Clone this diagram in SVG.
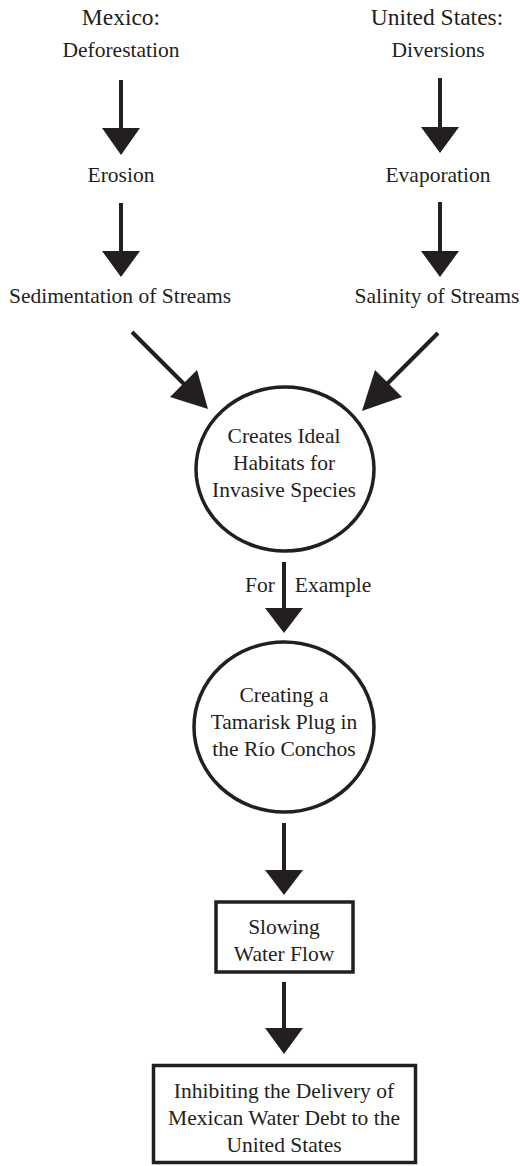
<svg xmlns="http://www.w3.org/2000/svg" width="520" height="1166" viewBox="0 0 520 1166">
<style>
text{font-family:"Liberation Serif","Times New Roman",serif;fill:#231f20;text-anchor:middle;font-size:21.5px}
.h{font-size:23.5px}
.ln{stroke:#231f20;stroke-width:4;fill:none}
.hd{fill:#231f20;stroke:none}
.nd{fill:#fff;stroke:#231f20;stroke-width:3.5}
</style>
<rect width="520" height="1166" fill="#fff"/>
<g id="connectors">
<line class="ln" x1="121" y1="80" x2="121" y2="132"/><polygon class="hd" points="102,128 140,128 121,155"/>
<line class="ln" x1="121" y1="203" x2="121" y2="255"/><polygon class="hd" points="102,251 140,251 121,277"/>
<line class="ln" x1="440" y1="78" x2="440" y2="131"/><polygon class="hd" points="421,127 459,127 440,153"/>
<line class="ln" x1="440" y1="202" x2="440" y2="255"/><polygon class="hd" points="421,251 459,251 440,277"/>
<line class="ln" x1="132" y1="332" x2="186" y2="386"/><polygon class="hd" points="170,397 197,370 208,409"/>
<line class="ln" x1="438" y1="333" x2="384" y2="387"/><polygon class="hd" points="402,397 375,370 362,411"/>
<line class="ln" x1="284" y1="562" x2="284" y2="612"/><polygon class="hd" points="265,608 303,608 284,633"/>
<line class="ln" x1="284" y1="823" x2="284" y2="874"/><polygon class="hd" points="265,870 303,870 284,895"/>
<line class="ln" x1="284" y1="982" x2="284" y2="1032"/><polygon class="hd" points="265,1028 303,1028 284,1054"/>
<text x="260" y="592" style="text-anchor:middle">For</text>
<text x="333" y="592">Example</text>
</g>
<g id="n-mexico"><text class="h" x="121" y="25">Mexico:</text><text x="121" y="57">Deforestation</text></g>
<g id="n-erosion"><text x="121" y="182">Erosion</text></g>
<g id="n-sedimentation"><text x="120" y="303">Sedimentation of Streams</text></g>
<g id="n-us"><text class="h" x="437" y="25">United States:</text><text x="438" y="57">Diversions</text></g>
<g id="n-evaporation"><text x="438" y="182">Evaporation</text></g>
<g id="n-salinity"><text x="437" y="303">Salinity of Streams</text></g>
<g id="n-habitats"><ellipse class="nd" cx="285" cy="469" rx="89" ry="82"/>
<text x="284" y="443">Creates Ideal</text><text x="284" y="470">Habitats for</text><text x="284" y="497">Invasive Species</text></g>
<g id="n-tamarisk"><ellipse class="nd" cx="284" cy="727" rx="90" ry="85"/>
<text x="284" y="702">Creating a</text><text x="284" y="729">Tamarisk Plug in</text><text x="284" y="756">the Río Conchos</text></g>
<g id="n-slowing"><rect class="nd" x="216" y="902" width="137" height="70"/>
<text x="284" y="934">Slowing</text><text x="284" y="961">Water Flow</text></g>
<g id="n-inhibiting"><rect class="nd" x="153.5" y="1065.5" width="262" height="97"/>
<text x="284" y="1098">Inhibiting the Delivery of</text><text x="284" y="1125">Mexican Water Debt to the</text><text x="284" y="1152">United States</text></g>
</svg>
